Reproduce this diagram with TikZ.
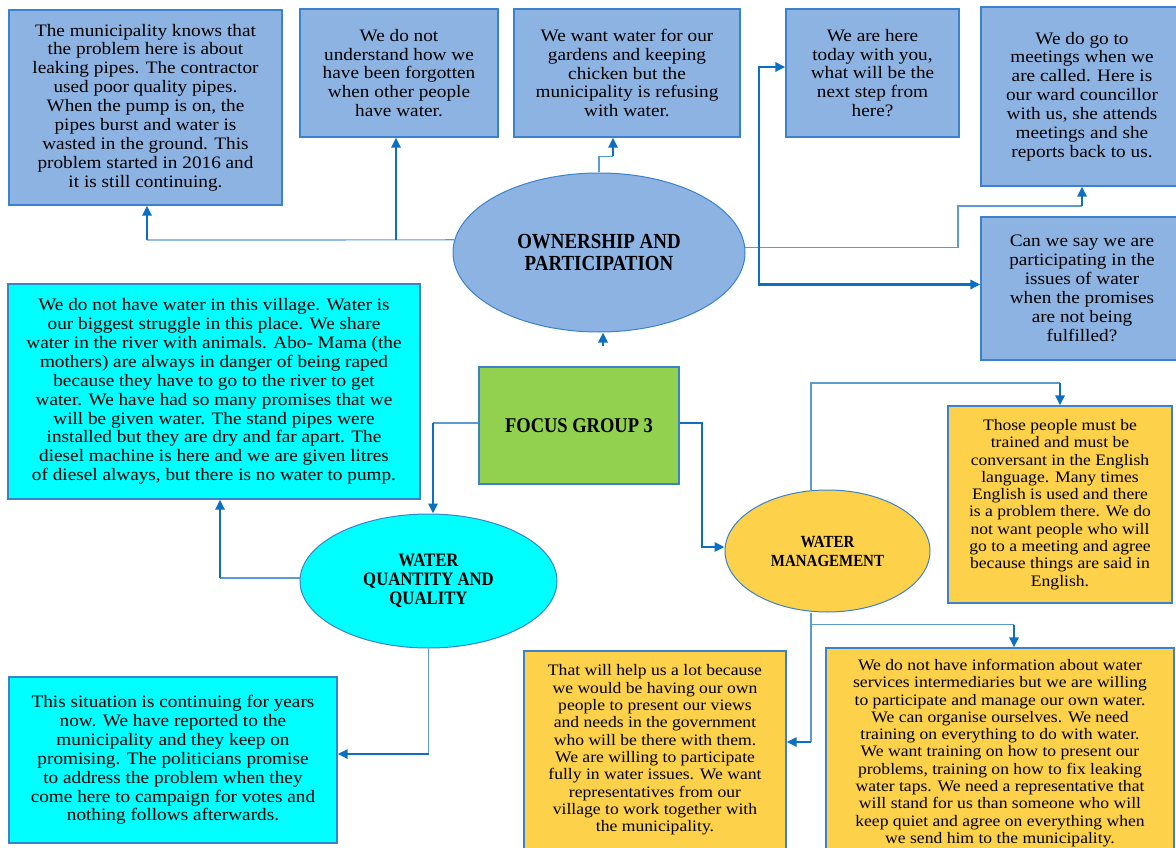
\documentclass[tikz,border=0pt]{standalone}
\usepackage{fontspec}
\setmainfont{Liberation Serif}[FakeStretch=1.1]
\newfontfamily\tfont{Liberation Serif}[FakeStretch=0.88]
\usetikzlibrary{shapes.geometric,arrows.meta,calc}
\definecolor{blueF}{HTML}{8DB3E2}
\definecolor{cyanF}{HTML}{00FFFF}
\definecolor{greenF}{HTML}{92D050}
\definecolor{yellowF}{HTML}{FDD14A}
\definecolor{bordc}{HTML}{3B82CC}
\definecolor{thinc}{HTML}{5B9BD5}
\definecolor{thickc}{HTML}{0B6FC2}
\tikzset{
  bbox/.style={rectangle, draw=bordc, line width=1.1pt, inner sep=0pt, align=center,
    font=\fontsize{17.5}{18.9}\selectfont},
  ybox/.style={bbox, fill=yellowF, font=\fontsize{16}{17.3}\selectfont},
  ell/.style={ellipse, draw=bordc, line width=1pt, inner sep=0pt, align=center},
  thinl/.style={draw=thinc, line width=1.2pt},
  thickarrow/.style={draw=thickc, line width=2.6pt, -{Triangle[length=10pt,width=9pt]}}
}
\begin{document}
\begin{tikzpicture}[x=1pt,y=-1pt]
\useasboundingbox (0,0) rectangle (1176,848);
\fill[white] (0,0) rectangle (1176,848);
\clip (0,0) rectangle (1176,848);

% top row boxes
\node[bbox, fill=blueF, minimum width=273pt, minimum height=195pt] (box1) at (145.5,107.5)
 {The municipality knows that\\the problem here is about\\leaking pipes. The contractor\\used poor quality pipes.\\When the pump is on, the\\pipes burst and water is\\wasted in the ground. This\\problem started in 2016 and\\it is still continuing.};
\node[bbox, fill=blueF, minimum width=198pt, minimum height=128pt] (box2) at (399,73)
 {We do not\\understand how we\\have been forgotten\\when other people\\have water.};
\node[bbox, fill=blueF, minimum width=226pt, minimum height=128pt] (box3) at (627,73)
 {We want water for our\\gardens and keeping\\chicken but the\\municipality is refusing\\with water.};
\node[bbox, fill=blueF, minimum width=173pt, minimum height=128pt] (box4) at (872.5,73)
 {We are here\\today with you,\\what will be the\\next step from\\here?};
\node[bbox, fill=blueF, minimum width=202pt, minimum height=179pt] (box5) at (1082,96.5)
 {We do go to\\meetings when we\\are called. Here is\\our ward councillor\\with us, she attends\\meetings and she\\reports back to us.};
\node[bbox, fill=blueF, minimum width=202pt, minimum height=143pt] (box6) at (1082,288.5)
 {Can we say we are\\participating in the\\issues of water\\when the promises\\are not being\\fulfilled?};

% ellipses and centre
\node[ell, fill=blueF, minimum width=292pt, minimum height=159pt,
  font=\tfont\bfseries\fontsize{21.5}{22.5}\selectfont] (own) at (599,252.5)
 {OWNERSHIP AND\\PARTICIPATION};
\node[rectangle, draw=bordc, line width=1.1pt, fill=greenF, minimum width=200pt, minimum height=117pt,
  font=\tfont\bfseries\fontsize{21}{22}\selectfont] (focus) at (579,425.5) {FOCUS GROUP 3};
\node[ell, fill=cyanF, minimum width=257pt, minimum height=134pt,
  font=\tfont\bfseries\fontsize{19}{19}\selectfont] (wqq) at (428.5,581)
 {WATER\\QUANTITY AND\\QUALITY};
\node[ell, fill=yellowF, minimum width=205pt, minimum height=122pt,
  font=\tfont\bfseries\fontsize{17}{19}\selectfont] (wm) at (827.5,551)
 {WATER\\MANAGEMENT};

% left cyan boxes
\node[bbox, fill=cyanF, minimum width=412pt, minimum height=215pt] (cyan) at (214,391.5)
 {We do not have water in this village. Water is\\our biggest struggle in this place. We share\\water in the river with animals. Abo- Mama (the\\mothers) are always in danger of being raped\\because they have to go to the river to get\\water. We have had so many promises that we\\will be given water. The stand pipes were\\installed but they are dry and far apart. The\\diesel machine is here and we are given litres\\of diesel always, but there is no water to pump.};
\node[bbox, fill=cyanF, minimum width=328pt, minimum height=166pt] (cyanB) at (173,760)
 {This situation is continuing for years\\now. We have reported to the\\municipality and they keep on\\promising. The politicians promise\\to address the problem when they\\come here to campaign for votes and\\nothing follows afterwards.};

% yellow boxes
\node[ybox, minimum width=224pt, minimum height=197pt] (yR) at (1060,504.5)
 {Those people must be\\trained and must be\\conversant in the English\\language. Many times\\English is used and there\\is a problem there. We do\\not want people who will\\go to a meeting and agree\\because things are said in\\English.};
\node[ybox, minimum width=262pt, minimum height=198pt] (yBL) at (655,750)
 {That will help us a lot because\\we would be having our own\\people to present our views\\and needs in the government\\who will be there with them.\\We are willing to participate\\fully in water issues. We want\\representatives from our\\village to work together with\\the municipality.};
\node[ybox, minimum width=348pt, minimum height=210pt] (yBR) at (1000,753)
 {We do not have information about water\\services intermediaries but we are willing\\to participate and manage our own water.\\We can organise ourselves. We need\\training on everything to do with water.\\We want training on how to present our\\problems, training on how to fix leaking\\water taps. We need a representative that\\will stand for us than someone who will\\keep quiet and agree on everything when\\we send him to the municipality.};

% connectors: ownership
\coordinate (a1) at (147,240);
\coordinate (a2) at (396,240);
\draw[thinl] (own.175) -- (a1);
\draw[thickarrow] (a1) -- (a1 |- box1.south);
\draw[thickarrow] (a2) -- (a2 |- box2.south);
\draw[thinl] (own.north) -- ++(0,-16) -- ++(14,0) coordinate (c3);
\draw[thickarrow] (c3) -- (c3 |- box3.south);
\coordinate (k1) at (958,206);
\draw[thinl] (own.2) -| (k1) -- (box5.south |- k1);
\draw[thickarrow] (box5.south |- k1) -- (box5.south);
\coordinate (j2) at (759,247);
\draw[thickarrow] (j2) |- ([yshift=6pt]box4.west);
\draw[thickarrow] (j2) |- ([yshift=4pt]box6.west);

% focus group
\coordinate (fa) at (603,346);
\draw[thickarrow] (fa) -- (fa |- own.south);
\coordinate (b1) at (433,423);
\draw[thinl] (focus.west |- b1) -- (b1);
\draw[thickarrow] (b1) -- (b1 |- wqq.north);
\coordinate (b2) at (702,423);
\draw[thickarrow] (focus.east |- b2) -- (b2) |- ([yshift=4pt]wm.west);

% water quantity
\coordinate (b3) at (220,578);
\draw[thinl] (wqq.west |- b3) -- (b3);
\draw[thickarrow] (b3) -- (b3 |- cyan.south);
\coordinate (b4) at (428.5,754);
\draw[thinl] (wqq.south) -- (b4);
\draw[thickarrow] (b4) -- (cyanB.east |- b4);

% water management
\coordinate (b5) at (811,383);
\draw[thinl] (wm.north -| b5) -- (b5) -- (yR.north |- b5);
\draw[thickarrow] (yR.north |- b5) -- (yR.north);
\coordinate (b6) at (811,624.5);
\coordinate (b7) at (1014,624.5);
\coordinate (b8) at (811,742);
\draw[thinl] (wm.south -| b6) -- (b8);
\draw[thinl] (b6) -- (b7);
\draw[thickarrow] (b7) -- (b7 |- yBR.north);
\draw[thickarrow] (b8) -- (yBL.east |- b8);
\end{tikzpicture}
\end{document}
